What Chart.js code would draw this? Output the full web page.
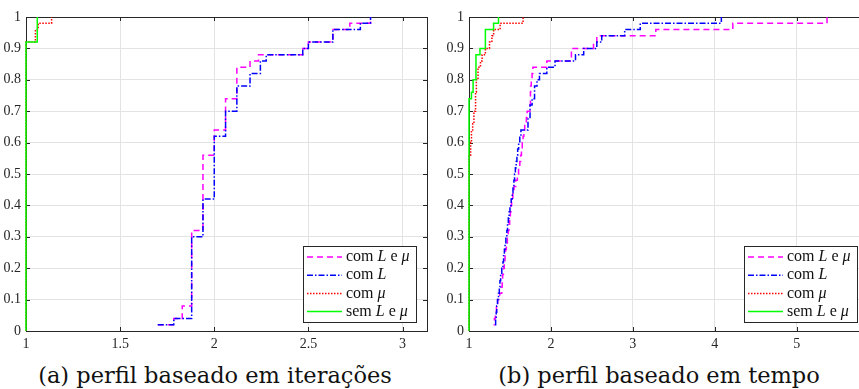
<!DOCTYPE html>
<html>
<head>
<meta charset="utf-8">
<script src="https://cdn.jsdelivr.net/npm/chart.js@4/dist/chart.umd.min.js"></script>
<style>
    body { margin: 0; width: 859px; height: 389px; overflow: hidden; background: #fff; position: relative; }
    canvas { position: absolute; top: 0; }
    #chart-iter { left: 0; }
    #chart-time { left: 440px; }
    .caption { position: absolute; top: 362px; font-family: "DejaVu Serif", serif; font-size: 22.5px; line-height: 26px; color: #111; white-space: nowrap; transform: translateX(-50%); }
</style>
</head>
<body>
<canvas id="chart-iter" width="440" height="355"></canvas>
<canvas id="chart-time" width="430" height="355"></canvas>
<div class="caption" style="left:215px">(a) perfil baseado em iterações</div>
<div class="caption" style="left:659px">(b) perfil baseado em tempo</div>
<script>
// series: com L e mu / com L / com mu / sem L e mu
const seriesLabels = ['com *L* e *μ*', 'com *L*', 'com *μ*', 'sem *L* e *μ*'];
const seriesColors = ['#ff00ff', '#0000ff', '#ff0000', '#00ff00'];
const seriesDashes = [[6, 4], [6, 2, 1.5, 2], [1.5, 1.5], []];

const yTicks = [0, 0.1, 0.2, 0.3, 0.4, 0.5, 0.6, 0.7, 0.8, 0.9, 1];
const iterXTicks = [1, 1.5, 2, 2.5, 3];
const timeXTicks = [1, 2, 3, 4, 5];

// (a) iterations
const iterBothX = [1.70, 1.785, 1.83, 1.88, 1.94, 2.00, 2.06, 2.12, 2.19, 2.235, 2.47, 2.50, 2.63, 2.72, 2.83];
const iterBothY = [0.02, 0.04, 0.08, 0.32, 0.56, 0.64, 0.74, 0.84, 0.86, 0.88, 0.90, 0.92, 0.96, 0.98, 1.00];
const iterLX = [1.70, 1.785, 1.88, 1.94, 2.00, 2.06, 2.12, 2.19, 2.245, 2.276, 2.47, 2.50, 2.63, 2.776, 2.83];
const iterLY = [0.02, 0.04, 0.30, 0.42, 0.62, 0.70, 0.78, 0.82, 0.86, 0.88, 0.90, 0.92, 0.96, 0.98, 1.00];
const iterMuX = [1, 1, 1.05, 1.065, 1.136];
const iterMuY = [0, 0.92, 0.96, 0.98, 1.00];
const iterNoneX = [1, 1, 1.06];
const iterNoneY = [0, 0.92, 1.00];

// (b) time
const timeBothX = [1.30, 1.31, 1.322, 1.335, 1.35, 1.375, 1.40, 1.405, 1.41, 1.42, 1.43, 1.44, 1.448, 1.456, 1.468, 1.478,
    1.488, 1.496, 1.505, 1.512, 1.52, 1.535, 1.55, 1.57, 1.59, 1.605, 1.62, 1.63, 1.64, 1.65, 1.66, 1.67,
    1.68, 1.70, 1.71, 1.745, 1.75, 1.75, 1.752, 1.76, 1.77, 1.78, 1.95, 2.25, 2.52, 2.56, 3.28, 4.22, 5.37];
const timeBothY = [0.02, 0.04, 0.06, 0.08, 0.10, 0.12, 0.14, 0.16, 0.18, 0.20, 0.22, 0.24, 0.26, 0.28, 0.30, 0.32,
    0.34, 0.36, 0.38, 0.40, 0.42, 0.44, 0.46, 0.48, 0.50, 0.52, 0.54, 0.56, 0.58, 0.60, 0.62, 0.64,
    0.66, 0.68, 0.70, 0.72, 0.74, 0.76, 0.78, 0.80, 0.82, 0.84, 0.86, 0.90, 0.92, 0.94, 0.96, 0.98, 1.00];
const timeLX = [1.317, 1.325, 1.332, 1.338, 1.348, 1.36, 1.37, 1.378, 1.386, 1.40, 1.414, 1.422, 1.432, 1.44, 1.45, 1.462,
    1.47, 1.48, 1.49, 1.50, 1.515, 1.528, 1.537, 1.548, 1.556, 1.566, 1.576, 1.585, 1.594, 1.606, 1.62, 1.634,
    1.72, 1.745, 1.77, 1.80, 1.83, 1.86, 1.95, 2.05, 2.30, 2.40, 2.56, 2.62, 2.90, 3.09, 4.08];
const timeLY = [0.02, 0.04, 0.06, 0.08, 0.10, 0.12, 0.14, 0.16, 0.18, 0.20, 0.22, 0.24, 0.26, 0.28, 0.30, 0.32,
    0.34, 0.36, 0.38, 0.40, 0.42, 0.44, 0.46, 0.48, 0.50, 0.52, 0.54, 0.56, 0.58, 0.60, 0.62, 0.64,
    0.68, 0.72, 0.74, 0.78, 0.80, 0.82, 0.84, 0.86, 0.88, 0.90, 0.92, 0.94, 0.96, 0.98, 1.00];
const timeMuX = [1, 1, 1.02, 1.03, 1.045, 1.06, 1.08, 1.09, 1.11, 1.14, 1.16, 1.20, 1.25, 1.28, 1.30, 1.38, 1.66];
const timeMuY = [0, 0.56, 0.60, 0.64, 0.66, 0.70, 0.76, 0.80, 0.84, 0.86, 0.88, 0.90, 0.92, 0.94, 0.96, 0.98, 1.00];
const timeNoneX = [1, 1, 1.03, 1.05, 1.085, 1.134, 1.20, 1.30, 1.36];
const timeNoneY = [0, 0.74, 0.76, 0.80, 0.88, 0.90, 0.96, 0.98, 1.00];

const FONT = '"Liberation Serif", serif';
const INK = '#262626';
// -------------------------------------------------------------------------------------------
const frameTicks = {
    id: 'frameTicks',
    beforeDatasetsDraw(chart) {
        const { ctx, chartArea: a, scales: { x, y } } = chart;
        ctx.save();
        ctx.strokeStyle = INK;
        ctx.lineWidth = 1;
        ctx.beginPath();
        x.ticks.forEach(t => {
            const px = Math.round(x.getPixelForValue(t.value)) + 0.5;
            ctx.moveTo(px, a.bottom); ctx.lineTo(px, a.bottom - 4);
            ctx.moveTo(px, a.top); ctx.lineTo(px, a.top + 4);
        });
        y.ticks.forEach(t => {
            const py = Math.round(y.getPixelForValue(t.value)) + 0.5;
            ctx.moveTo(a.left, py); ctx.lineTo(a.left + 4, py);
            ctx.moveTo(a.right, py); ctx.lineTo(a.right - 4, py);
        });
        ctx.stroke();
        ctx.strokeRect(Math.round(a.left) + 0.5, Math.round(a.top) + 0.5, Math.round(a.right - a.left), Math.round(a.bottom - a.top));
        ctx.restore();
    }
};
// -------------------------------------------------------------------------------------------
const boxLegend = {
    id: 'boxLegend',
    afterDraw(chart) {
        const { ctx, chartArea: a } = chart;
        const w = 113, h = 76;
        const left = Math.round(a.right - 11 - w), top = Math.round(a.bottom - 9 - h);
        ctx.save();
        ctx.fillStyle = '#fff';
        ctx.fillRect(left, top, w, h);
        ctx.strokeStyle = INK;
        ctx.lineWidth = 1;
        ctx.strokeRect(left + 0.5, top + 0.5, w, h);

        seriesLabels.forEach((label, i) => {
            const yy = top + 11 + i * 18.2;
            ctx.strokeStyle = seriesColors[i];
            ctx.lineWidth = 1.5;
            ctx.setLineDash(seriesDashes[i]);
            ctx.beginPath();
            ctx.moveTo(left + 4, yy);
            ctx.lineTo(left + 39, yy);
            ctx.stroke();
            ctx.setLineDash([]);

            let tx = left + 43;
            ctx.fillStyle = '#111';
            ctx.textBaseline = 'middle';
            label.split('*').forEach((part, k) => {
                ctx.font = (k % 2 ? 'italic ' : '') + '16px ' + FONT;
                ctx.fillText(part, tx, yy);
                tx += ctx.measureText(part).width;
            });
        });
        ctx.restore();
    }
};
// -------------------------------------------------------------------------------------------
function toPoints(xs, ys)
{
    return xs.map((x, i) => ({ x: x, y: ys[i] }));
}
// -------------------------------------------------------------------------------------------
function drawProfile(canvasId, series, xMax, xTicks, yAxisWidth, padRight, dashOffset)
{
    const datasets = series.map((s, i) => ({
        label: seriesLabels[i].replace(/\*/g, ''),
        data: toPoints(s[0], s[1]),
        stepped: 'before',
        borderColor: seriesColors[i],
        borderDash: seriesDashes[i],
        borderDashOffset: i === 0 ? dashOffset : 0,
        borderWidth: 1.5,
        pointRadius: 0,
        fill: false,
        clip: 4,
        order: 4 - i
    }));

    new Chart(document.getElementById(canvasId), {
        type: 'line',
        data: { datasets: datasets },
        plugins: [frameTicks, boxLegend],
        options: {
            responsive: false,
            animation: false,
            devicePixelRatio: 1,
            layout: { padding: { top: 17, right: padRight, left: 0, bottom: 0 } },
            plugins: { legend: { display: false }, tooltip: { enabled: false } },
            scales: {
                x: {
                    type: 'linear',
                    min: 1,
                    max: xMax,
                    afterBuildTicks: (scale) => { scale.ticks = xTicks.map(v => ({ value: v })); },
                    afterFit: (scale) => { scale.height = 24; },
                    border: { display: false },
                    grid: { color: '#e3e3e3', drawTicks: false },
                    ticks: { padding: 5, color: INK, font: { family: FONT, size: 14 }, maxRotation: 0, callback: (v) => String(v) }
                },
                y: {
                    min: 0,
                    max: 1,
                    afterBuildTicks: (scale) => { scale.ticks = yTicks.map(v => ({ value: v })); },
                    afterFit: (scale) => { scale.width = yAxisWidth; },
                    border: { display: false },
                    grid: { color: '#e3e3e3', drawTicks: false },
                    ticks: { padding: 5, color: INK, font: { family: FONT, size: 14 }, callback: (v) => String(v) }
                }
            }
        }
    });
}
// -------------------------------------------------------------------------------------------
drawProfile('chart-iter', [[iterBothX, iterBothY], [iterLX, iterLY], [iterMuX, iterMuY], [iterNoneX, iterNoneY]], 3.13, iterXTicks, 26, 13, 0);
drawProfile('chart-time', [[timeBothX, timeBothY], [timeLX, timeLY], [timeMuX, timeMuY], [timeNoneX, timeNoneY]], 5.87, timeXTicks, 29, 2, 5);
</script>
</body>
</html>
